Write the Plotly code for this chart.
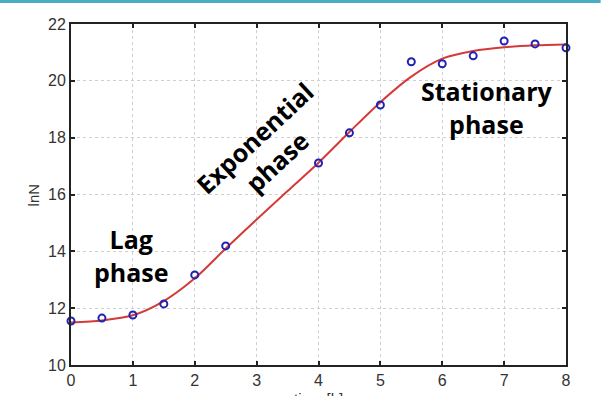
import plotly.graph_objects as go

t_meas = [0, 0.5, 1, 1.5, 2, 2.5, 4, 4.5, 5, 5.5, 6, 6.5, 7, 7.5, 8]
lnN_meas = [11.55, 11.65, 11.76, 12.15, 13.17, 14.19, 17.11, 18.17, 19.15, 20.67, 20.6, 20.88, 21.4, 21.3, 21.16]

t_fit = [0, 0.5, 1, 1.5, 2, 2.5, 3, 3.5, 4, 4.5, 5, 5.5, 6, 6.5, 7, 7.5, 8]
lnN_fit = [11.5, 11.57, 11.75, 12.25, 13.05, 14.1, 15.12, 16.12, 17.12, 18.2, 19.25, 20.15, 20.78, 21.05, 21.18, 21.25, 21.28]

x_ticks = [0, 1, 2, 3, 4, 5, 6, 7, 8]
y_ticks = [10, 12, 14, 16, 18, 20, 22]

fig = go.Figure()
fig.add_trace(go.Scatter(x=t_fit, y=lnN_fit, mode="lines",
                         line=dict(color="#d43a3a", width=2, shape="spline", smoothing=0.8),
                         hoverinfo="skip", showlegend=False))
fig.add_trace(go.Scatter(x=t_meas, y=lnN_meas, mode="markers",
                         marker=dict(symbol="circle-open", size=7, color="#2222b0",
                                     line=dict(width=2, color="#2222b0")),
                         showlegend=False, cliponaxis=False))

ann_font = dict(family="Open Sans, Lato, sans-serif", size=25, color="black")
fig.add_annotation(x=0.97, y=13.87, text="<b>Lag<br>phase</b>", showarrow=False, font=ann_font, align="center")
fig.add_annotation(x=3.15, y=17.6, text="<b>Exponential<br>phase</b>", showarrow=False, font=ann_font,
                   align="center", textangle=-43)
fig.add_annotation(x=6.72, y=19.05, text="<b>Stationary<br>phase</b>", showarrow=False, font=ann_font,
                   align="center")

title_font = dict(family="Liberation Sans, Arial", size=15, color="#333")
fig.add_annotation(xref="paper", yref="paper", x=0.5, y=-0.067, xanchor="center", yanchor="top",
                   text="time [h]", showarrow=False, font=title_font)
fig.add_annotation(xref="paper", yref="paper", x=-0.075, y=0.5, xanchor="center", yanchor="middle",
                   text="lnN", textangle=-90, showarrow=False, font=title_font)

axis_common = dict(showline=True, linecolor="#222", linewidth=2, mirror="ticks", ticks="inside", ticklen=4,
                   tickcolor="#222", tickwidth=2, showgrid=True, gridcolor="#cfcfcf", griddash="dot",
                   gridwidth=1, zeroline=False, automargin=False,
                   tickfont=dict(family="Liberation Sans, Arial", size=16, color="#333"))

fig.update_xaxes(range=[0, 8], tickvals=x_ticks, **axis_common)
fig.update_yaxes(range=[10, 22], tickvals=y_ticks, **axis_common)

fig.add_shape(type="line", xref="paper", yref="paper", x0=-0.15, x1=1.07, y0=1.066, y1=1.066,
              line=dict(color="#4bacc6", width=3))

fig.update_layout(width=601, height=396, margin=dict(l=71, r=35, t=24, b=31),
                  plot_bgcolor="white", paper_bgcolor="white")

fig.write_html("out.html", config={"displayModeBar": False},
               post_script="document.body.style.margin='0';document.body.style.overflow='hidden';")
